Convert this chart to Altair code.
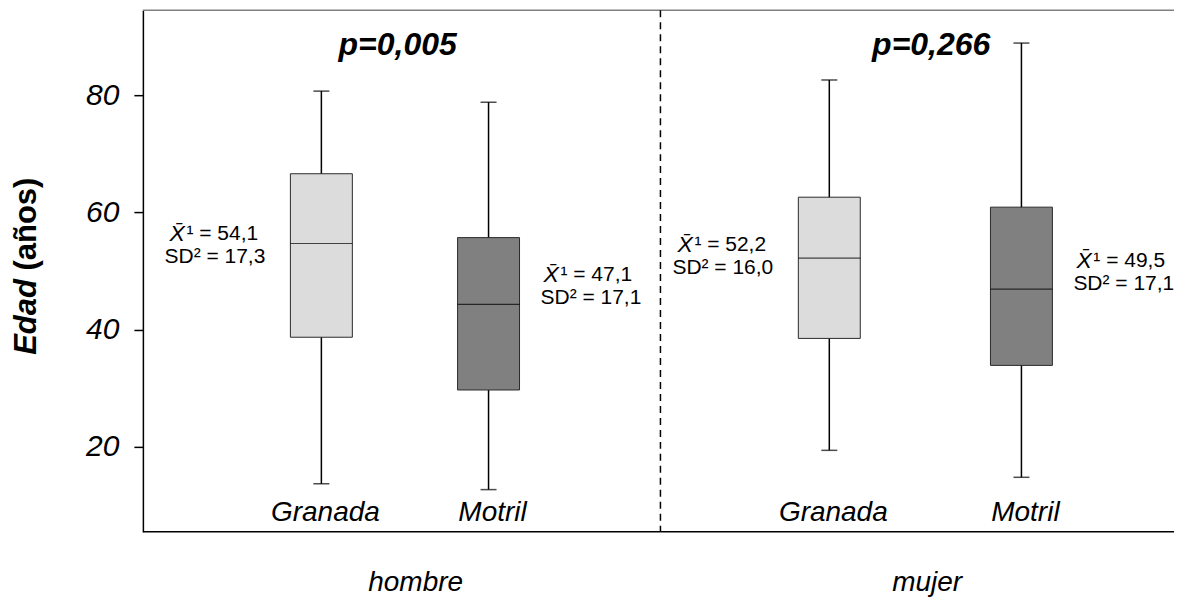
import altair as alt
import pandas as pd

# ---- data ----
sexo = ["hombre", "hombre", "mujer", "mujer"]
ciudad = ["Granada", "Motril", "Granada", "Motril"]
minimo = [13.7, 12.7, 19.4, 14.8]
q1 = [38.7, 29.7, 38.5, 33.9]
mediana = [54.7, 44.3, 52.2, 46.9]
q3 = [66.6, 55.7, 62.6, 60.9]
maximo = [80.7, 78.8, 82.6, 88.9]
media = [54.1, 47.1, 52.2, 49.5]
sd = [17.3, 17.1, 16.0, 17.1]

grupos = ["hombre", "mujer"]
ciudades = ["Granada", "Motril"]
p_valores = ["p=0,005", "p=0,266"]
y_ticks = [20, 40, 60, 80]


def coma(v):
    return f"{v:.1f}".replace(".", ",")


df = pd.DataFrame({
    "sexo": sexo, "ciudad": ciudad, "min": minimo, "q1": q1, "mediana": mediana,
    "q3": q3, "max": maximo, "media": media, "sd": sd,
})
df["lbl_media"] = ["\u00b9 = " + coma(m) for m in media]
df["lbl_sd"] = ["SD\u00b2 = " + coma(s) for s in sd]

dfp = pd.DataFrame({"sexo": grupos, "p": p_valores})

H = 522
FONT = "Liberation Sans"
yscale = alt.Scale(domain=[5.5, 94.5], nice=False, zero=False)
yaxis = alt.Axis(values=y_ticks, title=None, tickSize=9, tickColor="black", tickWidth=1.5,
                 domainColor="black", domainWidth=1.5, labelFontSize=30, labelFontStyle="italic",
                 labelPadding=15, grid=False, labelColor="black")
one = alt.Data(values=[{}])


def panel(g, width, po, align, first, p_dx, lbl_off):
    xenc = alt.X(
        "sexo:N",
        scale=alt.Scale(domain=[g], paddingInner=0, paddingOuter=0),
        axis=alt.Axis(title=None, labelFontSize=28, labelFontStyle="italic", ticks=False,
                      domain=False, labelPadding=37, labelAngle=0, labelOffset=lbl_off,
                      labelColor="black"),
    )
    xoff = alt.XOffset("ciudad:N", scale=alt.Scale(domain=ciudades, paddingOuter=po,
                                                   paddingInner=0, align=align))
    base = alt.Chart(df).transform_filter(alt.datum.sexo == g)

    whisker = base.mark_rule(color="black", strokeWidth=1.5).encode(
        x=xenc, xOffset=xoff,
        y=alt.Y("min:Q", scale=yscale, axis=yaxis if first else None), y2="max:Q")
    cap_lo = base.mark_tick(size=16, thickness=1.5, orient="horizontal", color="black").encode(
        x=xenc, xOffset=xoff, y=alt.Y("min:Q", scale=yscale))
    cap_hi = base.mark_tick(size=16, thickness=1.5, orient="horizontal", color="black").encode(
        x=xenc, xOffset=xoff, y=alt.Y("max:Q", scale=yscale))
    box = base.mark_bar(size=62, stroke="#2a2a2a", strokeWidth=1).encode(
        x=xenc, xOffset=xoff, y=alt.Y("q1:Q", scale=yscale), y2="q3:Q",
        color=alt.Color("ciudad:N",
                        scale=alt.Scale(domain=ciudades, range=["#dcdcdc", "#808080"]),
                        legend=None))
    median = base.mark_tick(size=62, thickness=1.2, orient="horizontal", color="black").encode(
        x=xenc, xOffset=xoff, y=alt.Y("mediana:Q", scale=yscale))
    city_lbl = base.mark_text(fontSize=28, fontStyle="italic", baseline="middle",
                              color="black", dx=4).encode(
        x=xenc, xOffset=xoff, y=alt.value(503), text="ciudad:N")

    def annot(city, dx_x, dx_sd):
        b = base.transform_filter(alt.datum.ciudad == city)
        enc = dict(x=xenc, xOffset=xoff, y=alt.Y("media:Q", scale=yscale))
        xbar = b.mark_text(align="left", baseline="middle", dx=dx_x, dy=-13, fontSize=23,
                           fontStyle="italic", color="black").encode(
            text=alt.value("X\u0304"), **enc)
        rest = b.mark_text(align="left", baseline="middle", dx=dx_x + 17, dy=-13,
                           fontSize=21, color="black").encode(text="lbl_media:N", **enc)
        sdt = b.mark_text(align="left", baseline="middle", dx=dx_sd, dy=10, fontSize=21,
                          color="black").encode(text="lbl_sd:N", **enc)
        return [xbar, rest, sdt]

    ann = annot("Granada", -152, -157) + annot("Motril", 55, 52)

    pval = alt.Chart(dfp).transform_filter(alt.datum.sexo == g).mark_text(
        fontSize=32, fontWeight="bold", fontStyle="italic", baseline="middle",
        color="black", dx=p_dx).encode(x=xenc, y=alt.value(35), text="p:N")

    top_line = alt.Chart(one).mark_rule(color="#808080", strokeWidth=1.5).encode(
        x=alt.value(0), x2=alt.value(width), y=alt.value(0))
    bottom_line = alt.Chart(one).mark_rule(color="black", strokeWidth=1.5).encode(
        x=alt.value(0), x2=alt.value(width), y=alt.value(H))

    layers = [whisker, cap_lo, cap_hi, box, median, city_lbl] + ann + [pval, top_line,
                                                                       bottom_line]
    if first:
        # white anchor fixing the top-left corner of the padded layout
        layers.append(alt.Chart(one).mark_rule(color="white", strokeWidth=1).encode(
            x=alt.value(-134.5), x2=alt.value(-130), y=alt.value(-1.5)))
        layers.append(alt.Chart(one).mark_text(
            angle=270, fontSize=31, fontWeight="bold", fontStyle="italic", baseline="middle",
            align="center", color="black").encode(
            x=alt.value(-116), y=alt.value(307), text=alt.value("Edad")))
        layers.append(alt.Chart(one).mark_text(
            angle=270, fontSize=31, fontWeight="bold", baseline="middle", align="center",
            color="black").encode(
            x=alt.value(-116), y=alt.value(214), text=alt.value("(años)")))
    else:
        layers.append(alt.Chart(one).mark_rule(
            strokeDash=[7, 5], color="black", strokeWidth=1.5).encode(
            x=alt.value(0), y=alt.value(0), y2=alt.value(H)))
    return alt.layer(*layers).properties(width=width, height=H)


p1 = panel("hombre", 518, 0.548, 0.518, True, -4, 14)
p2 = panel("mujer", 514, 0.3365, 0.563, False, 14, 10)

chart = alt.hconcat(p1, p2, spacing=0, bounds="flush").resolve_scale(
    x="independent", xOffset="independent"
).properties(
    padding=0,
).configure(font=FONT).configure_view(stroke=None)

chart.save("out.html", embed_options={"renderer": "svg", "actions": False})
